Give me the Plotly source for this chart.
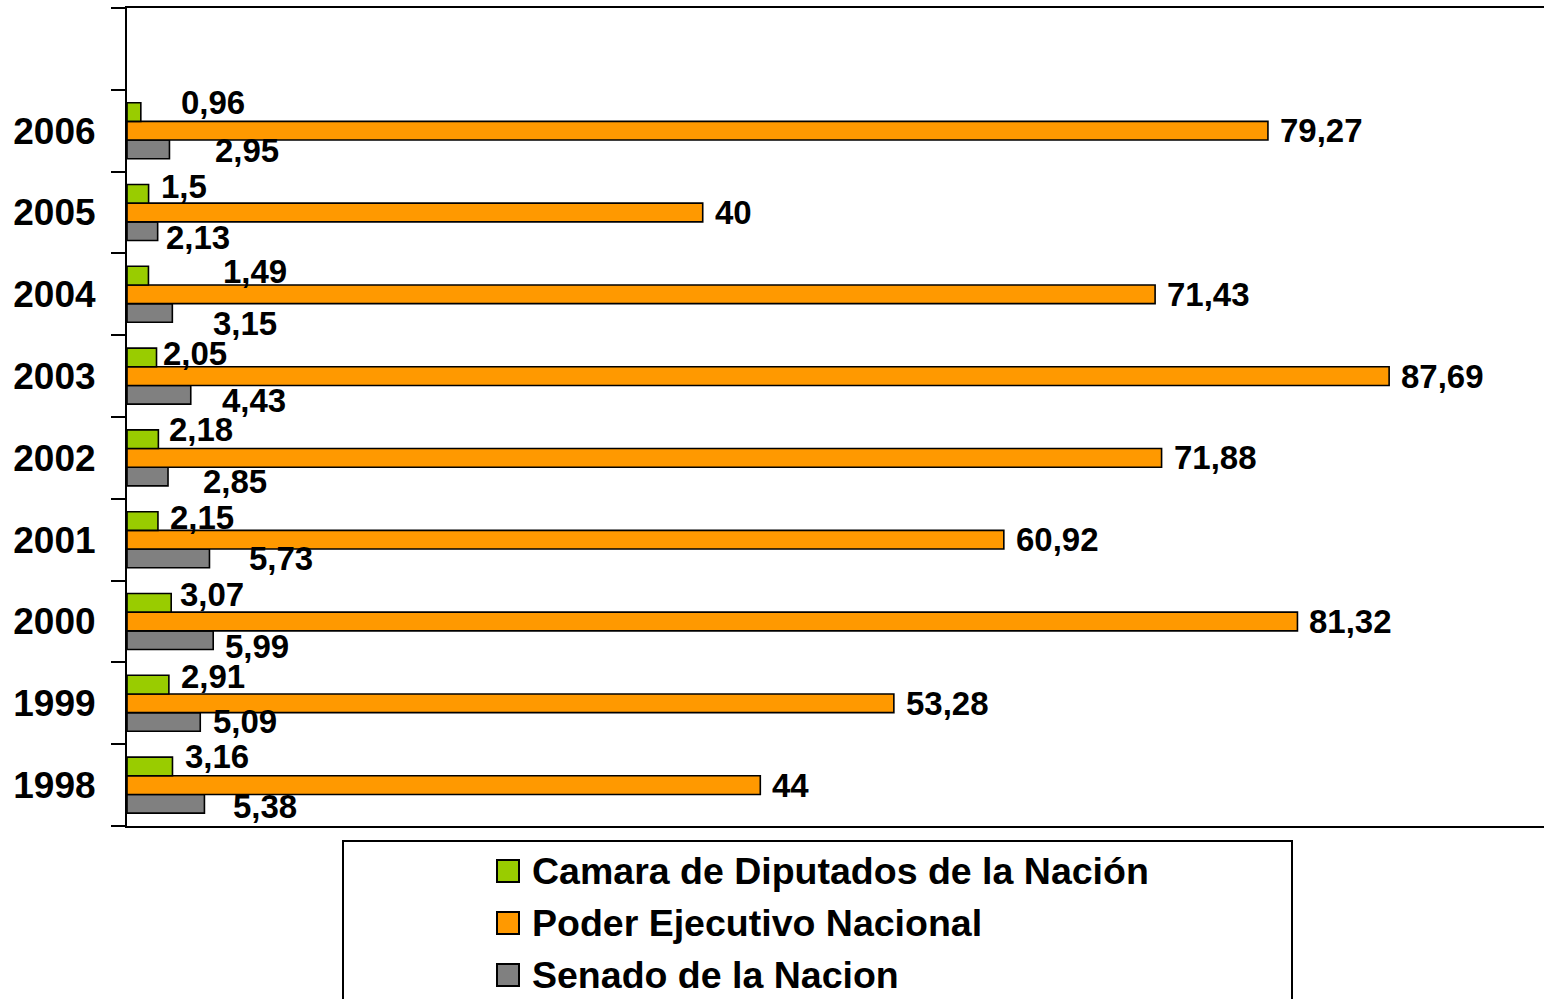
import plotly.graph_objects as go

# ---- data ----
years = [1998, 1999, 2000, 2001, 2002, 2003, 2004, 2005, 2006]
camara = [3.16, 2.91, 3.07, 2.15, 2.18, 2.05, 1.49, 1.5, 0.96]
poder = [44, 53.28, 81.32, 60.92, 71.88, 87.69, 71.43, 40, 79.27]
senado = [5.38, 5.09, 5.99, 5.73, 2.85, 4.43, 3.15, 2.13, 2.95]
series_names = ["Camara de Diputados de la Nación", "Poder Ejecutivo Nacional", "Senado de la Nacion"]

# ---- styling (label nudges in pixels, as placed in the original) ----
green_dx = [11, 10, 7, 10, 9, 4, 73, 10, 38]
gray_dx = [27, 11, 10, 38, 33, 29, 39, 6, 44]
green_dy = [-29, -27, -27.5, -22, -28, -23, -23, -26.5, -28]
gray_dy = [21, 18, 24.5, 19, 24, 24, 29, 24.5, 20]
orange_dx = 10

W, H = 1544, 999
FONT = "Liberation Sans, Arial, sans-serif"
colors = {"camara": "#99CC00", "poder": "#FF9900", "senado": "#808080"}


def px(x):
    return x / W


def py(y):
    return 1 - y / H


ypos = list(range(len(years)))

fig = go.Figure()
fig.add_trace(go.Bar(y=ypos, x=senado, orientation="h", name=series_names[2],
                     marker=dict(color=colors["senado"], line=dict(color="black", width=1.6)),
                     showlegend=False))
fig.add_trace(go.Bar(y=ypos, x=poder, orientation="h", name=series_names[1],
                     marker=dict(color=colors["poder"], line=dict(color="black", width=1.6)),
                     showlegend=False))
fig.add_trace(go.Bar(y=ypos, x=camara, orientation="h", name=series_names[0],
                     marker=dict(color=colors["camara"], line=dict(color="black", width=1.6)),
                     showlegend=False))


def fmt(v):
    return f"{v:g}".replace(".", ",")


annotations = []
lab_font = dict(family=FONT, size=33, color="black", weight="bold")
for i, yv in enumerate(ypos):
    annotations.append(dict(x=camara[i], y=yv, xref="x", yref="y", text=fmt(camara[i]),
                            showarrow=False, xanchor="left", yanchor="middle",
                            xshift=green_dx[i], yshift=-green_dy[i], font=lab_font))
    annotations.append(dict(x=poder[i], y=yv, xref="x", yref="y", text=fmt(poder[i]),
                            showarrow=False, xanchor="left", yanchor="middle",
                            xshift=orange_dx, yshift=0, font=lab_font))
    annotations.append(dict(x=senado[i], y=yv, xref="x", yref="y", text=fmt(senado[i]),
                            showarrow=False, xanchor="left", yanchor="middle",
                            xshift=gray_dx[i], yshift=-gray_dy[i], font=lab_font))

# ---- custom legend ----
shapes = [dict(type="rect", xref="paper", yref="paper",
               x0=px(343), x1=px(1292), y0=py(1010), y1=py(841),
               line=dict(color="black", width=2), fillcolor="rgba(0,0,0,0)")]
leg_rows = [871, 923, 975]
leg_cols = [colors["camara"], colors["poder"], colors["senado"]]
for name, yc, col in zip(series_names, leg_rows, leg_cols):
    shapes.append(dict(type="rect", xref="paper", yref="paper",
                       x0=px(497), x1=px(519), y0=py(yc + 11), y1=py(yc - 11),
                       line=dict(color="black", width=2), fillcolor=col))
    annotations.append(dict(x=px(530), y=py(yc), xref="paper", yref="paper", text=name,
                            showarrow=False, xanchor="left", yanchor="middle",
                            font=dict(family=FONT, size=37.5, color="black", weight="bold")))

fig.update_layout(
    width=W, height=H,
    margin=dict(l=0, r=0, t=0, b=0),
    paper_bgcolor="white", plot_bgcolor="white",
    barmode="group", bargap=0.315, bargroupgap=0,
    shapes=shapes, annotations=annotations,
    showlegend=False,
    xaxis=dict(domain=[px(127), 1], range=[0, 98.45], showgrid=False, zeroline=False,
               showticklabels=False, ticks="", showline=True, mirror=True,
               linecolor="black", linewidth=2),
    yaxis=dict(domain=[py(826), py(8)], range=[-0.5, 9.5], showgrid=False, zeroline=False,
               tickmode="array", tickvals=ypos, ticktext=[str(y) for y in years],
               ticks="outside", ticklen=14, tickcolor="rgba(0,0,0,0)",
               ticklabelstandoff=8,
               tickfont=dict(family=FONT, size=37, color="black", weight="bold"),
               showline=True, linecolor="black", linewidth=2,
               minor=dict(tickmode="linear", tick0=-0.5, dtick=1, ticks="outside",
                          ticklen=14, tickwidth=2, tickcolor="black", showgrid=False)),
)

fig.write_html(
    "out.html",
    config={"displayModeBar": False},
    post_script="document.body.style.margin='0';document.body.style.overflow='hidden';",
)
